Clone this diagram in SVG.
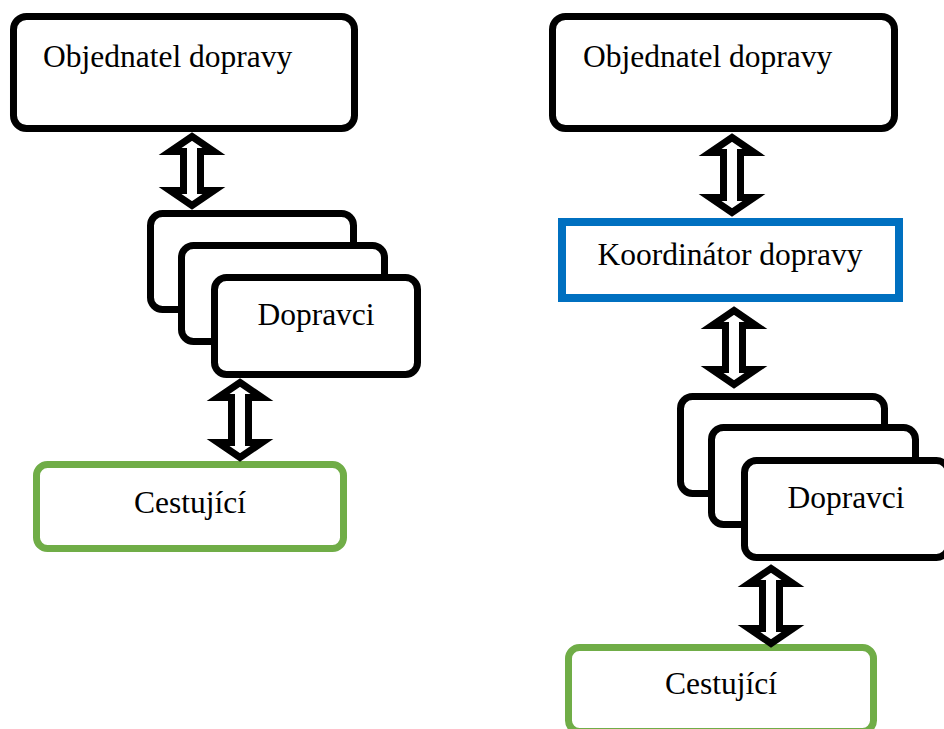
<svg xmlns="http://www.w3.org/2000/svg" width="944" height="729" viewBox="0 0 944 729">
<style>
.box{fill:#fff;stroke:#000;stroke-width:7}
.green{fill:#fff;stroke:#70AD47;stroke-width:7}
.blue{fill:#fff;stroke:#0070C0;stroke-width:8}
.arr{fill:#fff;stroke:#000;stroke-width:7;stroke-linejoin:miter;stroke-miterlimit:10}
text{font-family:"Liberation Serif","Times New Roman",serif;font-size:31.5px;fill:#000}
.c{text-anchor:middle}
</style>
<rect width="944" height="729" fill="#fff"/>
<g id="left-objednatel">
<rect class="box" x="13.5" y="16.5" width="341" height="112" rx="13"/>
<text x="43" y="67">Objednatel dopravy</text>
</g>
<g id="left-dopravci">
<rect class="box" x="150.5" y="213.5" width="203" height="96" rx="12"/>
<rect class="box" x="181.5" y="245.5" width="203" height="96" rx="12"/>
<rect class="box" x="214.5" y="277.5" width="203" height="97" rx="12"/>
<text class="c" x="316" y="325">Dopravci</text>
</g>
<g id="left-cestujici">
<rect class="green" x="36.5" y="464.5" width="307" height="84" rx="11"/>
<text class="c" x="190" y="513">Cestující</text>
</g>
<g id="right-objednatel">
<rect class="box" x="552.5" y="16.5" width="342" height="112" rx="13"/>
<text x="583" y="67">Objednatel dopravy</text>
</g>
<g id="right-koordinator">
<rect class="blue" x="562" y="222" width="337" height="76"/>
<text class="c" x="730" y="265">Koordinátor dopravy</text>
</g>
<g id="right-dopravci">
<rect class="box" x="680.5" y="396.5" width="204" height="97" rx="12"/>
<rect class="box" x="711.5" y="427.5" width="204" height="97" rx="12"/>
<rect class="box" x="744.5" y="460.5" width="204" height="97" rx="12"/>
<text class="c" x="846" y="508">Dopravci</text>
</g>
<g id="right-cestujici">
<rect class="green" x="568.5" y="647.5" width="305" height="84" rx="11"/>
<text class="c" x="721" y="694">Cestující</text>
</g>
<g id="connectors">
<polygon class="arr" points="192,136.5 214,151.5 200.5,151.5 200.5,190.5 214,190.5 192,205.5 170,190.5 183.5,190.5 183.5,151.5 170,151.5"/>
<polygon class="arr" points="240,382.5 262,397.5 248.5,397.5 248.5,442.5 262,442.5 240,457.5 218,442.5 231.5,442.5 231.5,397.5 218,397.5"/>
<polygon class="arr" points="732,137.5 754,152.5 740.5,152.5 740.5,197.5 754,197.5 732,212.5 710,197.5 723.5,197.5 723.5,152.5 710,152.5"/>
<polygon class="arr" points="734,310.5 756,325.5 742.5,325.5 742.5,369.5 756,369.5 734,384.5 712,369.5 725.5,369.5 725.5,325.5 712,325.5"/>
<polygon class="arr" points="771,568.5 793,583.5 779.5,583.5 779.5,628.5 793,628.5 771,643.5 749,628.5 762.5,628.5 762.5,583.5 749,583.5"/>
</g>
</svg>
